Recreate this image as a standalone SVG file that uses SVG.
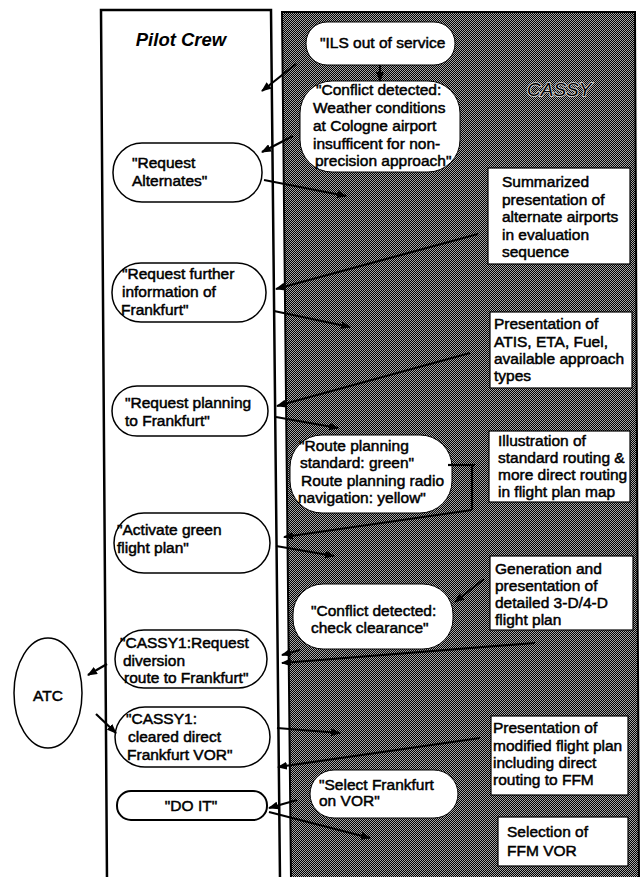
<svg xmlns="http://www.w3.org/2000/svg" width="640" height="877" viewBox="0 0 640 877">
<defs>
<pattern id="dots" width="2" height="2" patternUnits="userSpaceOnUse"><rect width="2" height="2" fill="#000"/><rect width="1" height="1" fill="#a6a6a6"/><rect x="1" y="1" width="1" height="1" fill="#a6a6a6"/></pattern>
<marker id="ah" viewBox="0 0 10 8" refX="9" refY="4" markerWidth="10" markerHeight="8" markerUnits="userSpaceOnUse" orient="auto"><path d="M0,0 L10,4 L0,8 z" fill="#000"/></marker>
</defs>
<style>
.t{font-family:"Liberation Sans",Arial,sans-serif;font-size:15.5px;fill:#000;stroke:#000;stroke-width:0.5}
.ti{font-family:"Liberation Sans",Arial,sans-serif;font-style:italic;fill:#000}
.pp{fill:#fff;stroke:#000;stroke-width:1.5}
.cp{fill:#fff;stroke:#000;stroke-width:1}
.bx{fill:#fff;stroke:#000;stroke-width:1.2}
.c{fill:none;stroke:#000;stroke-width:2.2}
.ca{fill:none;stroke:#000;stroke-width:2.2;marker-end:url(#ah)}
</style>
<rect width="640" height="877" fill="#fff"/>
<g id="lane-pilot">
<path d="M107,880 L101,10 L271,10 L280,880" fill="#fff" stroke="#000" stroke-width="2.5"/>
<text class="ti" x="181" y="46" text-anchor="middle" font-size="18.5" font-weight="bold">Pilot Crew</text>
</g>
<g id="lane-cassy">
<polygon points="282,12 635,12 639,880 291,880" fill="url(#dots)" stroke="#000" stroke-width="2"/>
<text class="ti" x="527" y="96" font-size="19" fill="#000" stroke="#e0e0e0" stroke-width="1.6" paint-order="stroke">CASSY</text>
</g>
<g id="n-ils"><rect class="cp" x="306" y="22" width="149" height="43" rx="21"/><text class="t" x="320" y="48" font-size="16">"ILS out of service</text></g>
<g id="n-conflict1"><rect class="cp" x="300" y="81" width="160" height="91" rx="32"/>
<text class="t" x="316" y="95">"Conflict detected:</text><text class="t" x="313" y="113">Weather conditions</text><text class="t" x="313" y="131">at Cologne airport</text><text class="t" x="313" y="149">insufficent for non-</text><text class="t" x="315" y="166">precision approach"</text></g>
<g id="n-req-alt"><rect class="pp" x="113" y="143" width="149" height="59" rx="29"/><text class="t" x="132" y="168">"Request</text><text class="t" x="132" y="186">Alternates"</text></g>
<g id="n-summ"><rect class="bx" x="488" y="168" width="142" height="96"/><text class="t" x="502" y="187">Summarized</text><text class="t" x="502" y="205">presentation of</text><text class="t" x="502" y="222">alternate airports</text><text class="t" x="502" y="240">in evaluation</text><text class="t" x="502" y="257">sequence</text></g>
<g id="n-req-further"><rect class="pp" x="112" y="263" width="154" height="59" rx="29"/><text class="t" x="122" y="279">"Request further</text><text class="t" x="122" y="297">information of</text><text class="t" x="121" y="315">Frankfurt"</text></g>
<g id="n-atis"><rect class="bx" x="490" y="312" width="142" height="76"/><text class="t" x="494" y="329">Presentation of</text><text class="t" x="494" y="347">ATIS, ETA, Fuel,</text><text class="t" x="494" y="364">available approach</text><text class="t" x="494" y="381">types</text></g>
<g id="n-req-plan"><rect class="pp" x="112" y="386" width="156" height="50" rx="25"/><text class="t" x="125" y="408">"Request planning</text><text class="t" x="125" y="426">to Frankfurt"</text></g>
<g id="n-route"><rect class="cp" x="290" y="435" width="162" height="78" rx="32"/><text class="t" x="299" y="451">"Route planning</text><text class="t" x="300" y="468">standard: green"</text><text class="t" x="301" y="486">Route planning radio</text><text class="t" x="298" y="503">navigation: yellow"</text></g>
<g id="n-illus"><rect class="bx" x="489" y="431" width="141" height="71"/><text class="t" x="498" y="446">Illustration of</text><text class="t" x="498" y="463">standard routing &amp;</text><text class="t" x="498" y="480">more direct routing</text><text class="t" x="498" y="497">in flight plan map</text></g>
<g id="n-activate"><rect class="pp" x="114" y="513" width="156" height="60" rx="30"/><text class="t" x="117" y="535">"Activate green</text><text class="t" x="117" y="553">flight plan"</text></g>
<g id="n-gen"><rect class="bx" x="490" y="556" width="143" height="74"/><text class="t" x="495" y="574">Generation and</text><text class="t" x="495" y="591">presentation of</text><text class="t" x="495" y="608">detailed 3-D/4-D</text><text class="t" x="495" y="625">flight plan</text></g>
<g id="n-conflict2"><rect class="cp" x="293" y="584" width="160" height="65" rx="30"/><text class="t" x="311" y="616">"Conflict detected:</text><text class="t" x="311" y="633">check clearance"</text></g>
<g id="n-atc"><ellipse cx="48" cy="693" rx="34" ry="55" fill="#fff" stroke="#000" stroke-width="1.5"/><text class="t" x="48" y="701" font-size="21" text-anchor="middle">ATC</text></g>
<g id="n-cassy1-req"><rect class="pp" x="115" y="630" width="152" height="58" rx="29"/><text class="t" x="120" y="648">"CASSY1:Request</text><text class="t" x="123" y="666">diversion</text><text class="t" x="124" y="683">route to Frankfurt"</text></g>
<g id="n-cassy1-clr"><rect class="pp" x="115" y="707" width="155" height="60" rx="30"/><text class="t" x="126" y="724">"CASSY1:</text><text class="t" x="128" y="742">cleared direct</text><text class="t" x="127" y="760">Frankfurt VOR"</text></g>
<g id="n-modified"><rect class="bx" x="491" y="716" width="137" height="79"/><text class="t" x="493" y="733">Presentation of</text><text class="t" x="493" y="751">modified flight plan</text><text class="t" x="493" y="768">including direct</text><text class="t" x="493" y="785">routing to FFM</text></g>
<g id="n-select"><rect class="cp" x="310" y="770" width="148" height="48" rx="24"/><text class="t" x="319" y="790">"Select Frankfurt</text><text class="t" x="319" y="806">on VOR"</text></g>
<g id="n-doit"><rect x="117" y="791" width="150" height="29" rx="14" fill="#fff" stroke="#000" stroke-width="2"/><text class="t" x="191" y="811" text-anchor="middle">"DO IT"</text></g>
<g id="n-selection"><rect class="bx" x="498" y="817" width="130" height="49"/><text class="t" x="507" y="837">Selection of</text><text class="t" x="507" y="856">FFM VOR</text></g>
<g id="connectors">
<line class="ca" x1="296" y1="64" x2="262" y2="91"/>
<line class="ca" x1="380" y1="65" x2="380" y2="81"/>
<line class="ca" x1="293" y1="136" x2="262" y2="152"/>
<line class="ca" x1="264" y1="180" x2="346" y2="196"/>
<line class="ca" x1="478" y1="234" x2="276" y2="289"/>
<line class="ca" x1="274" y1="311" x2="350" y2="327"/>
<line class="ca" x1="470" y1="353" x2="277" y2="406"/>
<line class="ca" x1="276" y1="417" x2="338" y2="428"/>
<line class="c" x1="448" y1="465" x2="475" y2="465"/>
<line class="c" x1="472" y1="465" x2="472" y2="510"/>
<line class="ca" x1="472" y1="510" x2="284" y2="537"/>
<line class="ca" x1="276" y1="546" x2="334" y2="556"/>
<line class="ca" x1="484" y1="579" x2="455" y2="602"/>
<line class="ca" x1="535" y1="643" x2="282" y2="663"/>
<line class="ca" x1="300" y1="650" x2="282" y2="655"/>
<line class="ca" x1="107" y1="664" x2="88" y2="675"/>
<line class="ca" x1="96" y1="714" x2="116" y2="733"/>
<line class="ca" x1="277" y1="728" x2="340" y2="733"/>
<line class="ca" x1="480" y1="738" x2="278" y2="767"/>
<line class="ca" x1="297" y1="800" x2="269" y2="808"/>
<line class="ca" x1="269" y1="812" x2="370" y2="838"/>
</g>
</svg>
